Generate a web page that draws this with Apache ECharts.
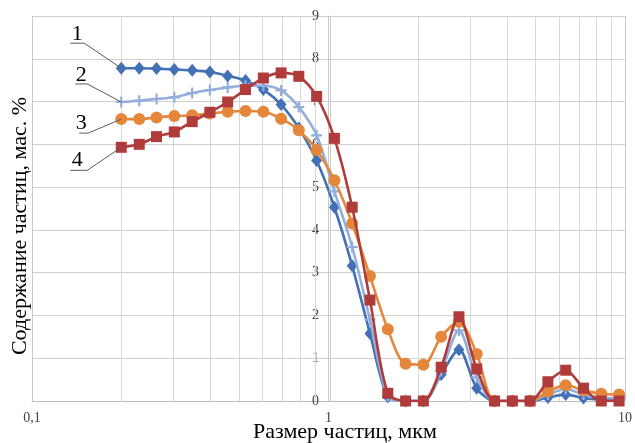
<!DOCTYPE html>
<html>
<head>
<meta charset="utf-8">
<script src="https://cdn.jsdelivr.net/npm/echarts@6/dist/echarts.min.js"></script>
<style>
  html, body { margin: 0; padding: 0; background: #fff; }
  #chart { width: 635px; height: 443px; }
</style>
</head>
<body>
<div id="chart"></div>
<script>
// Particle size bins, µm
const sizes = [0.2, 0.23, 0.263, 0.302, 0.347, 0.398, 0.457, 0.525, 0.603, 0.692, 0.794, 0.912,
  1.047, 1.202, 1.38, 1.585, 1.82, 2.089, 2.399, 2.754, 3.162, 3.631, 4.169, 4.786,
  5.495, 6.31, 7.244, 8.318, 9.55];

// Content of particles, wt. %, for samples 1–4
const sample1 = [7.78, 7.78, 7.77, 7.75, 7.73, 7.69, 7.6, 7.49, 7.28, 6.93, 6.38, 5.62,
  4.53, 3.16, 1.58, 0.1, 0, 0, 0.62, 1.2, 0.3, 0, 0, 0, 0.08, 0.15, 0.07, 0.03, 0.03];
const sample2 = [6.99, 7.02, 7.06, 7.1, 7.2, 7.27, 7.33, 7.37, 7.37, 7.26, 6.87, 6.21,
  4.9, 3.6, 1.9, 0.12, 0, 0, 0.7, 1.65, 0.55, 0, 0, 0, 0.15, 0.28, 0.15, 0.08, 0.06];
const sample3 = [6.59, 6.59, 6.63, 6.66, 6.68, 6.72, 6.76, 6.78, 6.76, 6.6, 6.33, 5.87,
  5.16, 4.15, 2.92, 1.68, 0.87, 0.85, 1.5, 1.85, 1.1, 0, 0, 0, 0.22, 0.37, 0.25, 0.17, 0.15];
const sample4 = [5.93, 6.0, 6.18, 6.29, 6.53, 6.75, 6.99, 7.28, 7.55, 7.67, 7.59, 7.12,
  6.14, 4.53, 2.36, 0.18, 0, 0, 0.79, 1.97, 0.75, 0, 0, 0, 0.45, 0.72, 0.3, 0, 0];

const sampleNames = ['1', '2', '3', '4'];
// Intermediate log-scale grid lines
const minorGrid = [0.2, 0.3, 0.4, 0.5, 0.6, 0.7, 0.8, 0.9, 2, 3, 4, 5, 6, 7, 8, 9];

const serif = '"Liberation Serif", "Times New Roman", serif';
const colors = ['#4271B6', '#93AEDB', '#E5873A', '#B03B3B'];
const symbols = [
  'diamond',
  'path://M4,0H6V4H10V6H6V10H4V6H0V4H4Z',
  'circle',
  'rect'
];
const symbolSizes = [[11, 13], 11, 12, 11];

const allSamples = [sample1, sample2, sample3, sample4];

const chart = echarts.init(document.getElementById('chart'));

const series = allSamples.map((vals, i) => ({
  name: sampleNames[i],
  type: 'line',
  z: 3 + i,
  smooth: 0.3,
  symbol: symbols[i],
  symbolSize: symbolSizes[i],
  showAllSymbol: true,
  itemStyle: { color: colors[i] },
  lineStyle: { color: colors[i], width: 2.6 },
  data: sizes.map((x, k) => [x, vals[k]])
}));

// Carrier for the minor vertical grid lines
series.unshift({
  type: 'line',
  z: 1,
  data: [],
  markLine: {
    silent: true,
    z: 1,
    symbol: 'none',
    label: { show: false },
    lineStyle: { color: '#d6d6d6', width: 1, type: 'solid' },
    emphasis: { disabled: true },
    data: minorGrid.map(v => ({ xAxis: v }))
  }
});

chart.setOption({
  animation: false,
  backgroundColor: '#fff',
  grid: { left: 32, right: 5, top: 16, bottom: 42 },
  xAxis: {
    type: 'log',
    logBase: 10,
    min: 0.1,
    max: 10,
    axisLine: { show: true, lineStyle: { color: '#bdbdbd', width: 1 } },
    axisTick: { show: false },
    splitLine: { show: true, lineStyle: { color: '#c9c9c9', width: 1 } },
    axisLabel: {
      margin: 10,
      color: '#404040',
      fontFamily: serif,
      fontSize: 14,
      formatter: v => String(v).replace('.', ',')
    }
  },
  yAxis: {
    type: 'value',
    min: 0,
    max: 9,
    interval: 1,
    offset: -298,
    axisLine: { show: true, lineStyle: { color: '#c9c9c9', width: 1 } },
    axisTick: { show: false },
    splitLine: { show: true, lineStyle: { color: '#cfcfcf', width: 1 } },
    axisLabel: {
      margin: 11,
      color: '#404040',
      fontFamily: serif,
      fontSize: 14
    }
  },
  series: series
});

// Axis titles and numbered callouts for each sample
const calloutOffsets = [
  { tx: -44, ty: -34, uy: -25, u0: -51, u1: -37 },
  { tx: -40, ty: -27, uy: -18, u0: -46, u1: -34 },
  { tx: -40, ty: 4, uy: 14, u0: -42, u1: -33 },
  { tx: -44, ty: 13, uy: 23, u0: -51, u1: -34 }
];

const graphics = [
  {
    type: 'text',
    left: 253,
    top: 421,
    style: { text: 'Размер частиц, мкм', font: '22px ' + serif, fill: '#000' }
  },
  {
    type: 'text',
    x: 20,
    y: 226,
    rotation: Math.PI / 2,
    style: {
      text: 'Содержание частиц, мас. %',
      font: '22px ' + serif,
      fill: '#000',
      align: 'center',
      verticalAlign: 'middle'
    }
  }
];

allSamples.forEach((vals, i) => {
  const p = chart.convertToPixel({ gridIndex: 0 }, [sizes[0], vals[0]]);
  const o = calloutOffsets[i];
  graphics.push({
    type: 'polyline',
    z: 10,
    silent: true,
    shape: { points: [[p[0] + o.u0, p[1] + o.uy], [p[0] + o.u1, p[1] + o.uy], [p[0], p[1]]] },
    style: { stroke: '#595959', lineWidth: 1, fill: null }
  });
  graphics.push({
    type: 'text',
    z: 10,
    x: p[0] + o.tx,
    y: p[1] + o.ty,
    style: {
      text: sampleNames[i],
      font: '22px ' + serif,
      fill: '#000',
      align: 'center',
      verticalAlign: 'middle'
    }
  });
});

chart.setOption({ graphic: graphics });
</script>
</body>
</html>
